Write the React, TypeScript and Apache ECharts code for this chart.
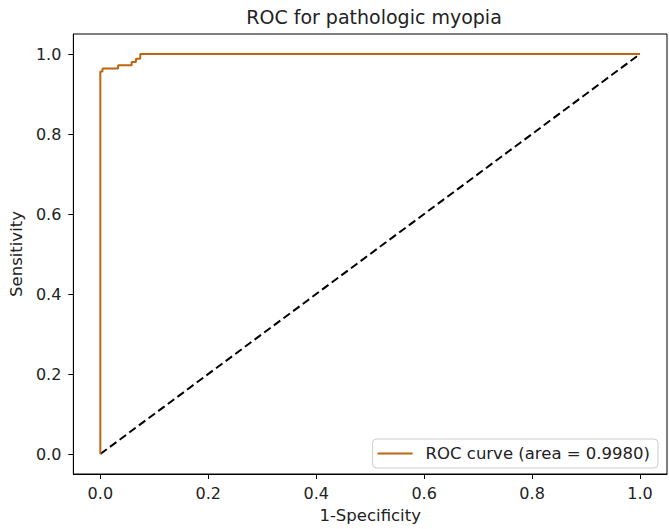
import React, { useEffect, useRef } from "react";
import * as echarts from "echarts";

const TITLE = "ROC for pathologic myopia";
const X_LABEL = "1-Specificity";
const Y_LABEL = "Sensitivity";
const ROC_NAME = "ROC curve (area = 0.9980)";
const TICKS = [0.0, 0.2, 0.4, 0.6, 0.8, 1.0];
const ROC_FPR = [0, 0, 0.004, 0.004, 0.033, 0.033, 0.058, 0.058, 0.066, 0.066, 0.074, 0.074, 1.0];
const ROC_TPR = [0, 0.956, 0.956, 0.964, 0.964, 0.972, 0.972, 0.98, 0.98, 0.988, 0.988, 1.0, 1.0];
const DIAG_X = [0, 1];
const DIAG_Y = [0, 1];

const FONT = "DejaVu Sans";
const ORANGE = "#c0650f";

export default function App() {
  const ref = useRef<HTMLDivElement>(null);
  useEffect(() => {
    if (!ref.current) return;
    const chart = echarts.init(ref.current, null, { renderer: "svg" });
    const axisCommon = {
      type: "value",
      min: -0.05,
      max: 1.05,
      splitLine: { show: false },
      axisLine: { show: true, onZero: false, lineStyle: { color: "#000", width: 1 } },
      axisTick: { show: true, customValues: TICKS, length: 5, lineStyle: { color: "#000", width: 1 } },
      axisLabel: {
        customValues: TICKS,
        formatter: (v: number) => v.toFixed(1),
        color: "#222",
        fontFamily: FONT,
        fontSize: 16,
      },
      nameLocation: "middle",
      nameTextStyle: { color: "#222", fontFamily: FONT, fontSize: 16.5 },
    };
    chart.setOption({
      animation: false,
      backgroundColor: "#fff",
      title: {
        text: TITLE,
        left: 369,
        textAlign: "center",
        top: 2,
        textStyle: { color: "#222", fontFamily: FONT, fontSize: 19, fontWeight: "normal" },
      },
      grid: {
        left: 72,
        right: 2,
        top: 34,
        bottom: 52,
        show: true,
        borderColor: "#000",
        borderWidth: 1,
        backgroundColor: "transparent",
      },
      xAxis: { ...axisCommon, name: X_LABEL, nameGap: 33, axisLabel: { ...axisCommon.axisLabel, margin: 11 } },
      yAxis: { ...axisCommon, name: Y_LABEL, nameGap: 47, axisLabel: { ...axisCommon.axisLabel, margin: 12 } },
      legend: {
        data: [{ name: ROC_NAME, icon: "rect" }],
        right: 11,
        bottom: 61,
        orient: "vertical",
        itemWidth: 35,
        itemHeight: 2,
        padding: [6, 8, 6, 5],
        borderColor: "#ccc",
        borderWidth: 1,
        borderRadius: 4,
        backgroundColor: "rgba(255,255,255,0.8)",
        itemStyle: { color: ORANGE },
        textStyle: { color: "#222", fontFamily: FONT, fontSize: 16.5, padding: [0, 0, 0, 8] },
      },
      series: [
        {
          name: ROC_NAME,
          type: "line",
          data: ROC_FPR.map((x, i) => [x, ROC_TPR[i]]),
          symbol: "none",
          lineStyle: { color: ORANGE, width: 2 },
          itemStyle: { color: ORANGE },
          z: 3,
        },
        {
          name: "diagonal",
          type: "line",
          data: DIAG_X.map((x, i) => [x, DIAG_Y[i]]),
          symbol: "none",
          lineStyle: { color: "#000", width: 2, type: [8, 4] },
          z: 2,
        },
      ],
    });
    return () => chart.dispose();
  }, []);
  return <div ref={ref} style={{ width: 669, height: 529, position: "fixed", left: 0, top: 0 }} />;
}
